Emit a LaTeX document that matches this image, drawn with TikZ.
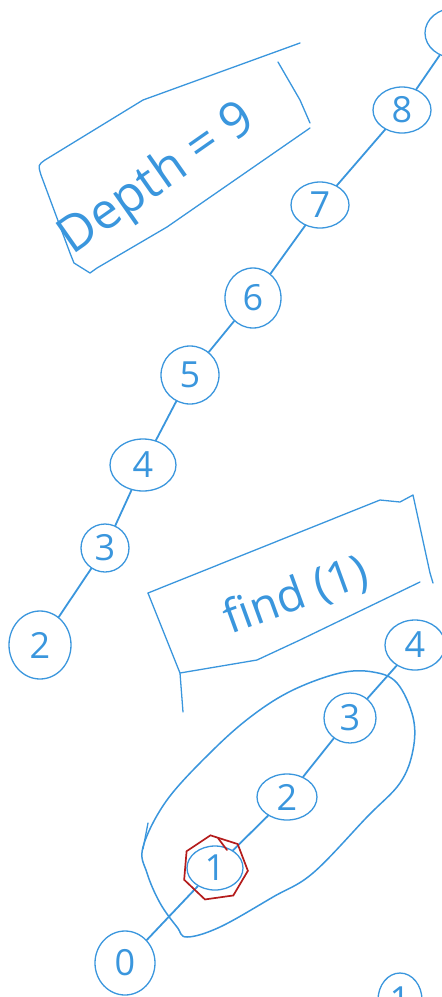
\documentclass[tikz,border=0pt]{standalone}
\usepackage{fontspec}
\setmainfont{Open Sans}
\usetikzlibrary{shapes.geometric}
\definecolor{ink}{RGB}{58,150,221}
\definecolor{redink}{RGB}{180,28,28}
\begin{document}
\begin{tikzpicture}[x=1pt,y=-1pt,
  pen/.style={draw=ink,line width=1.3pt,line cap=round,line join=round},
  vtx/.style={pen,ellipse,inner sep=0pt,text=ink,font=\fontsize{36}{36}\selectfont},
  link/.style={pen,line width=1.8pt},
  note/.style={text=ink,inner sep=0pt}]
\useasboundingbox (0,0) rectangle (442,997);
\clip (0,0) rectangle (442,997);

% upper chain of nodes
\node[vtx,minimum width=60,minimum height=50] (n9) at (455,33) {9};
\node[vtx,minimum width=58,minimum height=46] (n8) at (402,110) {8};
\node[vtx,minimum width=58,minimum height=46] (n7) at (320,205) {7};
\node[vtx,minimum width=56,minimum height=60] (n6) at (253,298) {6};
\node[vtx,minimum width=58,minimum height=58] (n5) at (190,375) {5};
\node[vtx,minimum width=66,minimum height=52] (n4) at (143,465) {4};
\node[vtx,minimum width=48,minimum height=48] (n3) at (105,548) {3};
\node[vtx,minimum width=62,minimum height=68] (n2) at (40,645) {2};

\draw[link] (n9) -- (n8);
\draw[link] (n8) -- (n7);
\draw[link] (n7) -- (n6);
\draw[link] (n6) -- (n5);
\draw[link] (n5) -- (n4);
\draw[link] (n4) -- (n3);
\draw[link] (n3) -- (n2);

% "Depth = 9" label and its frame
\node[note,rotate=35,font=\fontsize{50}{50}\selectfont] (depth) at (158,180) {Depth = 9};
\draw[pen] (300,43) -- (143,100) -- (45,160) .. controls (38,165) .. (41,175)
  -- (70,253) -- (74,263) -- (90,273) -- (97,268) -- (167,227) -- (310,128);
\draw[pen] (278,62) -- (300,100) -- (310,123);

% "find (1)" label and its frame
\node[note,rotate=20,font=\fontsize{46}{46}\selectfont] (find) at (296,596) {find (1)};
\draw[pen] (148,593) -- (380,500) -- (400,502) -- (413,495) -- (430,573) -- (433,583);
\draw[pen] (420,582) -- (300,640) -- (257,660) -- (180,673);
\draw[pen] (148,593) -- (180,673) -- (183,712);

% lower chain of nodes
\node[vtx,minimum width=60,minimum height=50] (m4) at (415,645) {4};
\node[vtx,minimum width=52,minimum height=50] (m3) at (350,718) {3};
\node[vtx,minimum width=60,minimum height=46] (m2) at (287,797) {2};
\node[vtx,minimum width=56,minimum height=44] (m1) at (215,868) {1};
\node[vtx,minimum width=60,minimum height=64] (m0) at (125,963) {0};
\node[vtx,minimum width=44,minimum height=54] (m5) at (400,1000) {1};

\draw[link] (m4) -- (m3);
\draw[link] (m3) -- (m2);
\draw[link] (m2) -- (m1);
\draw[link] (m1) -- (m0);

% highlight around the searched node
\node[draw=redink,line width=1.7pt,regular polygon,regular polygon sides=7,
  minimum size=66,rotate=8] (hl) at (m1) {};
\draw[draw=redink,line width=1.7pt,line cap=round] (218,838) -- (227,850);

% loop enclosing nodes 1 to 3
\draw[pen,line width=1.5pt] plot[smooth cycle,tension=0.6] coordinates {
  (340,673) (373,672) (397,683) (413,717) (413,750) (400,783) (367,817)
  (313,873) (273,897) (220,927) (187,937) (177,927) (160,903) (147,873)
  (143,847) (167,800) (213,750) (253,715) (293,690)};
\draw[pen] (148,823) -- (143,849);
\end{tikzpicture}
\end{document}
